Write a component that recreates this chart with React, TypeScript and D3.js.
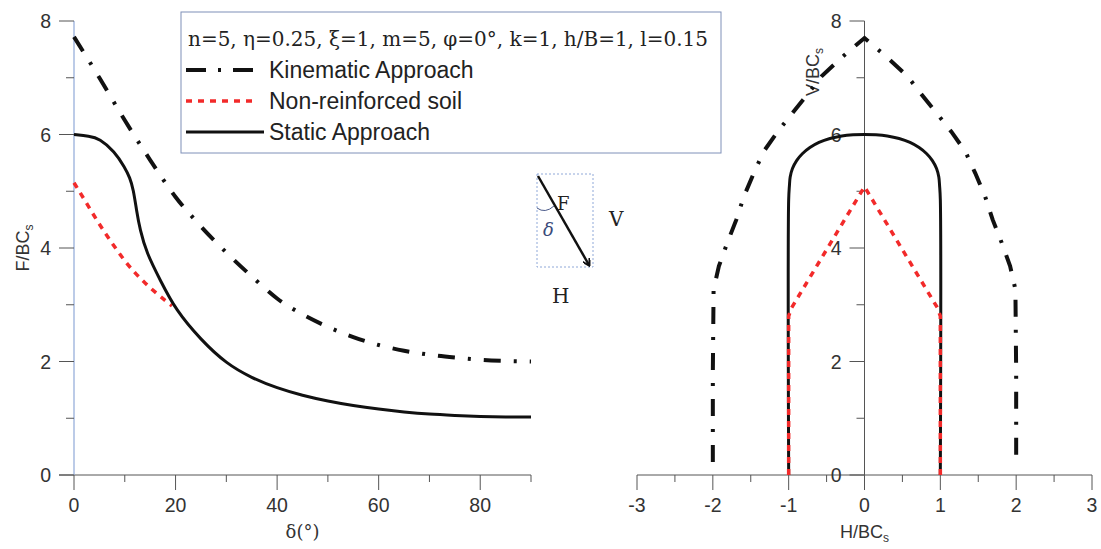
import React from "react";
import * as d3 from "d3";

// left panel: F/BCs against delta
const kinDelta = [0, 5, 10, 15, 20, 25, 30, 35, 40, 45, 50, 55, 60, 65, 70, 75, 80, 85, 90];
const kinF = [7.72, 7.0, 6.25, 5.55, 4.9, 4.38, 3.92, 3.5, 3.11, 2.83, 2.61, 2.43, 2.29, 2.19, 2.12, 2.07, 2.03, 2.01, 2.0];

const staticDelta = [0, 3, 5, 8, 10, 11, 11.7, 12.3, 13, 14.3, 17, 20, 25, 30, 35, 40, 45, 50, 55, 60, 65, 70, 75, 80, 85, 90];
const staticF = [6.0, 5.97, 5.93, 5.7, 5.42, 5.24, 5.03, 4.67, 4.32, 3.91, 3.43, 2.91, 2.38, 1.96, 1.71, 1.53, 1.4, 1.3, 1.22, 1.16, 1.11, 1.07, 1.05, 1.03, 1.02, 1.02];

const soilDelta = [0, 2, 4, 6, 8, 10, 12, 14, 16, 18, 19.3];
const soilF = [5.15, 4.86, 4.56, 4.28, 4.02, 3.77, 3.56, 3.38, 3.22, 3.07, 2.98];

// right panel: V/BCs against H/BCs
const kinH = [-2, -2, -1.99, -1.92, -1.81, -1.69, -1.59, -1.46, -1.33, -1.145, -0.955, -0.75, -0.57, -0.29, 0,
  0.29, 0.57, 0.75, 0.955, 1.145, 1.33, 1.46, 1.59, 1.69, 1.81, 1.92, 1.99, 2, 2];
const kinV = [0.23, 1.8, 3.27, 3.68, 4.09, 4.5, 4.91, 5.32, 5.7, 6.05, 6.37, 6.71, 7.02, 7.37, 7.7,
  7.37, 7.02, 6.71, 6.37, 6.05, 5.7, 5.32, 4.91, 4.5, 4.09, 3.68, 3.27, 1.8, 0.23];

const staticH = [-1, -1, -0.99, -0.98, -0.95, -0.895, -0.82, -0.72, -0.6, -0.456, -0.3, -0.15, 0,
  0.15, 0.3, 0.456, 0.6, 0.72, 0.82, 0.895, 0.95, 0.98, 0.99, 1, 1];
const staticV = [0, 4.85, 5.1, 5.25, 5.4, 5.54, 5.66, 5.77, 5.86, 5.93, 5.975, 5.995, 6.0,
  5.995, 5.975, 5.93, 5.86, 5.77, 5.66, 5.54, 5.4, 5.25, 5.1, 4.85, 0];

const soilH = [-1, -1, -0.96, 0, 0.96, 1, 1];
const soilV = [0, 2.8, 2.95, 5.08, 2.95, 2.8, 0];

// ticks
const leftXTicks = [0, 20, 40, 60, 80];
const leftXMinor = [10, 30, 50, 70, 90];
const yTicks = [0, 2, 4, 6, 8];
const yMinor = [1, 3, 5, 7];
const rightXTicks = [-3, -2, -1, 0, 1, 2, 3];
const rightXMinor = [-2.5, -1.5, -0.5, 0.5, 1.5, 2.5];

const legendTitle = "n=5, η=0.25,  ξ=1, m=5,  φ=0°, k=1, h/B=1, l=0.15";
const seriesNames = ["Kinematic Approach", "Non-reinforced soil", "Static Approach"];

const SANS = "'Liberation Sans', Arial, sans-serif";
const SERIF = "'DejaVu Serif', 'Liberation Serif', serif";
const AXIS = "#555";
const LABEL = "#333";
const RED = "#f22a2a";
const KIN_DASH = "17 13 3 13";
const DOT_DASH = "6 6";

export default function App() {
  const xL = d3.scaleLinear().domain([0, 90]).range([74, 531]);
  const y = d3.scaleLinear().domain([0, 8]).range([475, 21]);
  const xR = d3.scaleLinear().domain([-3, 3]).range([637, 1092]);

  const pair = (xs: number[], ys: number[]) => xs.map((v, i) => [v, ys[i]] as [number, number]);

  const lineL = d3.line<[number, number]>().x((d) => xL(d[0])).y((d) => y(d[1])).curve(d3.curveBasis);
  const kinL = d3.line<[number, number]>().x((d) => xL(d[0])).y((d) => y(d[1])).curve(d3.curveMonotoneX);
  const lineR = d3.line<[number, number]>().x((d) => xR(d[0])).y((d) => y(d[1]));
  const arcR = d3.line<[number, number]>().x((d) => xR(d[0])).y((d) => y(d[1])).curve(d3.curveCatmullRom.alpha(0.5));

  const y0 = y(0);

  return (
    <svg width={1101} height={549} style={{ position: "absolute", left: 0, top: 0, background: "#fff" }}>
      {/* left panel */}
      <g>
        <line x1={59} x2={xL(90)} y1={y0} y2={y0} stroke={AXIS} strokeWidth={1} />
        <line x1={xL(0)} x2={xL(0)} y1={y(0)} y2={y(8)} stroke="#8fa8d8" strokeWidth={1.2} />
        {yTicks.map((t) => (
          <g key={"ly" + t}>
            <line x1={59} x2={74} y1={y(t)} y2={y(t)} stroke={AXIS} />
            <text x={51} y={y(t) + 7} textAnchor="end" fontFamily={SANS} fontSize={19.5} fill={LABEL}>{t}</text>
          </g>
        ))}
        {yMinor.map((t) => (
          <line key={"lym" + t} x1={66} x2={74} y1={y(t)} y2={y(t)} stroke={AXIS} />
        ))}
        {leftXTicks.map((t) => (
          <g key={"lx" + t}>
            <line x1={xL(t)} x2={xL(t)} y1={y0} y2={y0 + 15} stroke={AXIS} />
            <text x={xL(t)} y={y0 + 37} textAnchor="middle" fontFamily={SANS} fontSize={19.5} fill={LABEL}>{t}</text>
          </g>
        ))}
        {leftXMinor.map((t) => (
          <line key={"lxm" + t} x1={xL(t)} x2={xL(t)} y1={y0} y2={y0 + 7} stroke={AXIS} />
        ))}
        <text x={xL(45)} y={538} textAnchor="middle" fontFamily={SERIF} fontSize={18} fill={LABEL}>δ(°)</text>
        <text transform={`translate(29,${y(4)}) rotate(-90)`} textAnchor="middle" fontFamily={SANS} fontSize={18} fill={LABEL}>
          F/BC<tspan fontSize={12} dy={4}>s</tspan>
        </text>

        <path d={lineL(pair(soilDelta, soilF)) ?? ""} fill="none" stroke={RED} strokeWidth={3.5} strokeDasharray={DOT_DASH} />
        <path d={lineL(pair(staticDelta, staticF)) ?? ""} fill="none" stroke="#111" strokeWidth={3} />
        <path d={kinL(pair(kinDelta, kinF)) ?? ""} fill="none" stroke="#111" strokeWidth={4} strokeDasharray={KIN_DASH} />
      </g>

      {/* legend */}
      <g>
        <rect x={181} y={12} width={540} height={141} fill="#fff" stroke="#7f90b8" strokeWidth={1} />
        <text x={188} y={46} fontFamily={SERIF} fontSize={20} fill="#222" textLength={520} lengthAdjust="spacingAndGlyphs">{legendTitle}</text>
        <line x1={186} x2={253} y1={70} y2={70} stroke="#111" strokeWidth={4} strokeDasharray="20 12 3 12" />
        <line x1={186} x2={256} y1={101} y2={101} stroke={RED} strokeWidth={3.5} strokeDasharray="6 6" />
        <line x1={186} x2={264} y1={132} y2={132} stroke="#111" strokeWidth={3} />
        {seriesNames.map((s, i) => (
          <text key={s} x={269} y={78 + i * 31} fontFamily={SANS} fontSize={23} fill="#222">{s}</text>
        ))}
      </g>

      {/* inset sketch */}
      <g>
        <rect x={537} y={174} width={56} height={93} fill="none" stroke="#8fa8d8" strokeWidth={1} strokeDasharray="2 2" />
        <defs>
          <marker id="ah" markerWidth={8} markerHeight={8} refX={6} refY={4} orient="auto" markerUnits="userSpaceOnUse">
            <path d="M0,0 L7,4 L0,8" fill="none" stroke="#111" strokeWidth={2} />
          </marker>
        </defs>
        <line x1={538} y1={176} x2={589} y2={265} stroke="#111" strokeWidth={2.5} markerEnd="url(#ah)" />
        <path d="M537,208 Q545,214 554,206" fill="none" stroke="#4a5a8a" strokeWidth={1} />
        <text x={557} y={210} fontFamily={SERIF} fontSize={18} fill="#222">F</text>
        <text x={543} y={236} fontFamily={SERIF} fontSize={18} fontStyle="italic" fill="#3a4a7a">δ</text>
        <text x={609} y={226} fontFamily={SERIF} fontSize={20} fill="#222">V</text>
        <text x={552} y={303} fontFamily={SERIF} fontSize={20} fill="#222">H</text>
      </g>

      {/* right panel */}
      <g>
        <line x1={xR(-3)} x2={xR(3)} y1={y0} y2={y0} stroke={AXIS} />
        <line x1={xR(0)} x2={xR(0)} y1={y(0)} y2={y(8)} stroke={AXIS} />
        {yTicks.map((t) => (
          <g key={"ry" + t}>
            <line x1={xR(0) - 15} x2={xR(0)} y1={y(t)} y2={y(t)} stroke={AXIS} />
            <text x={xR(0) - 23} y={y(t) + 7} textAnchor="end" fontFamily={SANS} fontSize={19.5} fill={LABEL}>{t}</text>
          </g>
        ))}
        {yMinor.map((t) => (
          <line key={"rym" + t} x1={xR(0) - 8} x2={xR(0)} y1={y(t)} y2={y(t)} stroke={AXIS} />
        ))}
        {rightXTicks.map((t) => (
          <g key={"rx" + t}>
            <line x1={xR(t)} x2={xR(t)} y1={y0} y2={y0 + 15} stroke={AXIS} />
            <text x={xR(t)} y={y0 + 37} textAnchor="middle" fontFamily={SANS} fontSize={19.5} fill={LABEL}>{t}</text>
          </g>
        ))}
        {rightXMinor.map((t) => (
          <line key={"rxm" + t} x1={xR(t)} x2={xR(t)} y1={y0} y2={y0 + 7} stroke={AXIS} />
        ))}
        <text x={xR(0)} y={538} textAnchor="middle" fontFamily={SANS} fontSize={18} fill={LABEL}>
          H/BC<tspan fontSize={12} dy={4}>s</tspan>
        </text>
        <text transform={`translate(819,${y(7.1)}) rotate(-90)`} textAnchor="middle" fontFamily={SANS} fontSize={18} fill={LABEL}>
          V/BC<tspan fontSize={12} dy={4}>s</tspan>
        </text>

        <path d={arcR(pair(staticH, staticV)) ?? ""} fill="none" stroke="#111" strokeWidth={3} />
        <path d={lineR(pair(soilH, soilV)) ?? ""} fill="none" stroke={RED} strokeWidth={3.5} strokeDasharray={DOT_DASH} />
        <path d={lineR(pair(kinH, kinV)) ?? ""} fill="none" stroke="#111" strokeWidth={4} strokeDasharray={KIN_DASH} strokeLinejoin="miter" />
      </g>
    </svg>
  );
}
